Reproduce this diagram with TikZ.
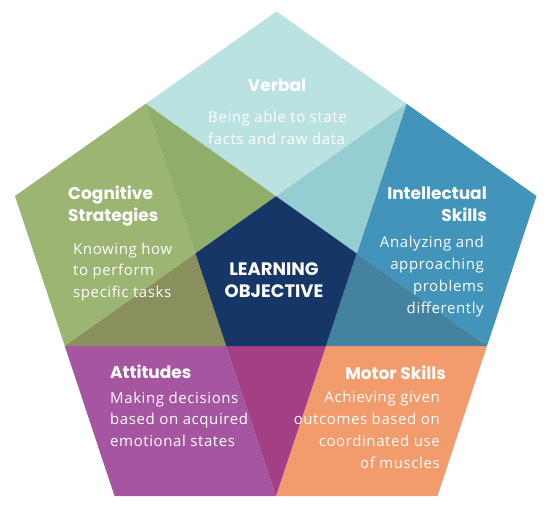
\documentclass[tikz,border=0pt]{standalone}
\usepackage{fontspec}
\newfontfamily\headfont{Poppins}
\newfontfamily\bodyfont{Open Sans}[LetterSpace=4]
\usetikzlibrary{calc}

\definecolor{verbalcol}{HTML}{B9E2E0}
\definecolor{intelcol}{HTML}{4294BA}
\definecolor{motorcol}{HTML}{F29B6D}
\definecolor{attcol}{HTML}{A656A1}
\definecolor{cogcol}{HTML}{9CB573}
\definecolor{tealmix}{HTML}{94CED3}
\definecolor{slatemix}{HTML}{43839F}
\definecolor{plummix}{HTML}{A23F85}
\definecolor{olivemix}{HTML}{8A8F5E}
\definecolor{mossmix}{HTML}{8EAE6A}
\definecolor{navycol}{HTML}{153666}

\tikzset{
  headtext/.style={white, inner sep=0pt, font=\headfont\bfseries\fontsize{17}{21.5}\selectfont},
  bodytext/.style={white, inner sep=0pt, font=\bodyfont\fontsize{15}{21.7}\selectfont}
}

\begin{document}
\begin{tikzpicture}[x=1pt, y=-1pt]
    \useasboundingbox (0,0) rectangle (554,505);

    % Outer pentagon corners
    \coordinate (T) at (276.5,11.5);
    \coordinate (R) at (536.5,196);
    \coordinate (BR) at (437.5,496);
    \coordinate (BL) at (114.5,496);
    \coordinate (L) at (15,196);

    % Edge midpoints
    \coordinate (mTR) at ($(T)!0.5!(R)$);
    \coordinate (mRB) at ($(R)!0.5!(BR)$);
    \coordinate (mB) at ($(BR)!0.5!(BL)$);
    \coordinate (mLB) at ($(BL)!0.5!(L)$);
    \coordinate (mTL) at ($(L)!0.5!(T)$);

    % Inner star corners
    \coordinate (iT) at (intersection of mTL--mRB and mTR--mLB);
    \coordinate (iR) at (intersection of mTL--mRB and mTR--mB);
    \coordinate (iBR) at (intersection of mTR--mB and mLB--mRB);
    \coordinate (iBL) at (intersection of mLB--mRB and mTL--mB);
    \coordinate (iL) at (intersection of mTL--mB and mTR--mLB);

    % Corner kites
    \fill[verbalcol] (T) -- (mTR) -- (iT) -- (mTL) -- cycle;
    \fill[intelcol] (R) -- (mRB) -- (iR) -- (mTR) -- cycle;
    \fill[motorcol] (BR) -- (mB) -- (iBR) -- (mRB) -- cycle;
    \fill[attcol] (BL) -- (mLB) -- (iBL) -- (mB) -- cycle;
    \fill[cogcol] (L) -- (mTL) -- (iL) -- (mLB) -- cycle;

    % Overlap triangles
    \fill[tealmix] (mTR) -- (iR) -- (iT) -- cycle;
    \fill[slatemix] (mRB) -- (iBR) -- (iR) -- cycle;
    \fill[plummix] (mB) -- (iBL) -- (iBR) -- cycle;
    \fill[olivemix] (mLB) -- (iL) -- (iBL) -- cycle;
    \fill[mossmix] (mTL) -- (iT) -- (iL) -- cycle;

    % Centre (base anchor sits on the last line)
    \fill[navycol] (iT) -- (iR) -- (iBR) -- (iBL) -- (iL) -- cycle;
    \node[headtext, font=\headfont\bfseries\fontsize{18}{22}\selectfont, align=center, anchor=base]
        (centre) at (274,297) {LEARNING\\OBJECTIVE};

    % Verbal
    \node[headtext, anchor=base] (verbalhead) at (277,92) {Verbal};
    \node[bodytext, align=left, anchor=base west] (verbalbody) at (208,144.7)
        {Being able to state\\facts and raw data};

    % Cognitive Strategies
    \node[headtext, align=left, anchor=base west] (coghead) at (68,221.5) {Cognitive\\Strategies};
    \node[bodytext, align=left, anchor=base west] (cogbody) at (73,297.4)
        {Knowing how\\to perform\\specific tasks};

    % Intellectual Skills
    \node[headtext, align=right, anchor=base east] (intelhead) at (487,221.5) {Intellectual\\Skills};
    \node[bodytext, align=right, anchor=base east] (intelbody) at (484,313)
        {Analyzing and\\approaching\\problems\\differently};

    % Attitudes
    \node[headtext, anchor=base west] (atthead) at (110,378) {Attitudes};
    \node[bodytext, align=left, anchor=base west] (attbody) at (110,446.4)
        {Making decisions\\based on acquired\\emotional states};

    % Motor Skills
    \node[headtext, anchor=base east] (motorhead) at (446,379) {Motor Skills};
    \node[bodytext, align=right, anchor=base east] (motorbody) at (440,468)
        {Achieving given\\outcomes based on\\coordinated use\\of muscles};
\end{tikzpicture}
\end{document}
